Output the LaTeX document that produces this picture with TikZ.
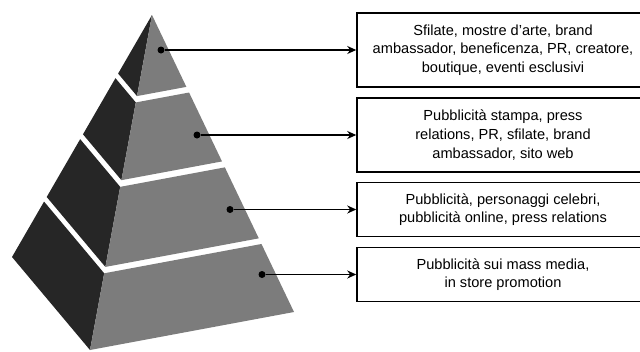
\documentclass[tikz,border=0pt]{standalone}
\usepackage{fontspec}
\setmainfont{Liberation Sans}
\usetikzlibrary{calc,arrows.meta}
\definecolor{litface}{HTML}{7C7C7C}
\definecolor{darkface}{HTML}{262626}
\tikzset{
  lface/.style={fill=darkface,draw=none},
  rface/.style={fill=litface,draw=none},
  dot/.style={circle,fill=black,inner sep=0pt,minimum size=7pt},
  infobox/.style={draw=black,line width=1.5pt,minimum width=292pt,inner sep=0pt,
    font=\fontsize{14.6}{18.6}\selectfont,align=center},
  conn/.style={line width=1.6pt,-{Stealth[length=9pt,width=8pt]}}
}
\begin{document}
\begin{tikzpicture}[x=1pt,y=-1pt]
\useasboundingbox (0,0) rectangle (640,351);
\clip (0,0) rectangle (640,351);
\coordinate (A) at (152,15);
\coordinate (L) at (12,257);
\coordinate (F) at (90,350);
\coordinate (R) at (294,312);
\foreach \ta/\tb in {0/0.242,0.261/0.493,0.513/0.752,0.771/1}{
  \fill[lface] ($(A)!\ta!(L)$) -- ($(A)!\ta!(F)$) -- ($(A)!\tb!(F)$) -- ($(A)!\tb!(L)$) -- cycle;
  \fill[rface] ($(A)!\ta!(F)$) -- ($(A)!\ta!(R)$) -- ($(A)!\tb!(R)$) -- ($(A)!\tb!(F)$) -- cycle;
}
\node[dot] (d1) at (161,50) {};
\node[dot] (d2) at (197,135) {};
\node[dot] (d3) at (230,209.5) {};
\node[dot] (d4) at (262,274.5) {};
\node[infobox,minimum height=74pt] (b1) at (503,50) {Sfilate, mostre d’arte, brand\\ambassador, beneficenza, PR, creatore,\\boutique, eventi esclusivi};
\node[infobox,minimum height=74pt] (b2) at (503,135) {Pubblicità stampa, press\\relations, PR, sfilate, brand\\ambassador, sito web};
\node[infobox,minimum height=54pt] (b3) at (503,209.5) {Pubblicità, personaggi celebri,\\pubblicità online, press relations};
\node[infobox,minimum height=54pt] (b4) at (503,274.5) {Pubblicità sui mass media,\\in store promotion};
\draw[conn] (d1) -- (b1);
\draw[conn] (d2) -- (b2);
\draw[conn] (d3) -- (b3);
\draw[conn] (d4) -- (b4);
\end{tikzpicture}
\end{document}
